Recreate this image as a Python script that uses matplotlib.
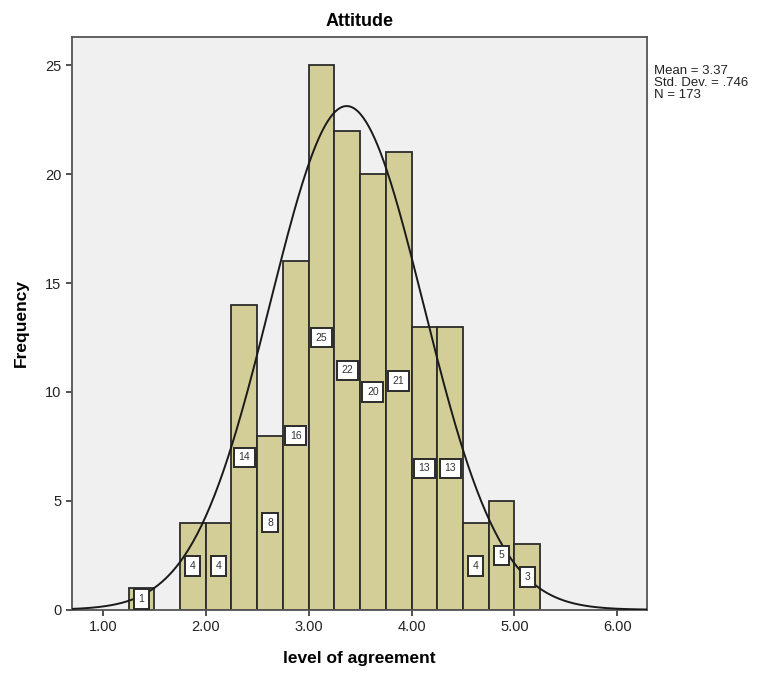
import numpy as np
import matplotlib.pyplot as plt

plt.rcParams['font.family'] = ['Liberation Sans', 'DejaVu Sans']

# histogram of attitude scores, bins of width 0.25
bin_left = [1.25, 1.75, 2.00, 2.25, 2.50, 2.75, 3.00, 3.25, 3.50, 3.75, 4.00, 4.25, 4.50, 4.75, 5.00]
counts = [1, 4, 4, 14, 8, 16, 25, 22, 20, 21, 13, 13, 4, 5, 3]
bin_width = 0.25
mean = 3.37
sd = 0.746
n = 173

fig = plt.figure(figsize=(7.65, 6.73), dpi=100)
ax = fig.add_axes([0.094, 0.094, 0.752, 0.851])
ax.set_facecolor('#f0f0f0')

ax.bar(bin_left, counts, width=bin_width, align='edge',
       color='#d3ce97', edgecolor='#2b2b2b', linewidth=1.3, zorder=2)

# bar count labels at half height
for x0, c in zip(bin_left, counts):
    ax.text(x0 + bin_width / 2, c / 2, str(c), ha='center', va='center',
            fontsize=7.5, color='#333333', zorder=4,
            bbox=dict(boxstyle='square,pad=0.45', fc='white', ec='#2b2b2b', lw=1.4))

# normal curve
xs = np.linspace(0.70, 6.29, 400)
ys = n * bin_width / (sd * np.sqrt(2 * np.pi)) * np.exp(-0.5 * ((xs - mean) / sd) ** 2)
ax.plot(xs, ys, color='#1a1a1a', linewidth=1.4, zorder=3)

ax.set_xlim(0.70, 6.29)
ax.set_ylim(0, 26.3)
ax.set_xticks([1, 2, 3, 4, 5, 6])
ax.set_xticklabels(['1.00', '2.00', '3.00', '4.00', '5.00', '6.00'])
ax.set_yticks([0, 5, 10, 15, 20, 25])
ax.tick_params(axis='both', labelsize=10.5, colors='#333333', length=4, width=1.2)
ax.tick_params(axis='both', labelcolor='#222222')
for s in ax.spines.values():
    s.set_color('#555555')
    s.set_linewidth(1.3)

ax.set_title('Attitude', fontsize=13, fontweight='bold', pad=8)
ax.set_xlabel('level of agreement', fontsize=12.5, fontweight='bold', labelpad=12)
ax.set_ylabel('Frequency', fontsize=12.5, fontweight='bold', labelpad=12)

fig.text(0.855, 0.904, f'Mean = {mean}\nStd. Dev. = .746\nN = {n}',
         fontsize=9.5, va='top', ha='left', color='#222222', linespacing=1.0)

fig.savefig('out.png', dpi=100)
